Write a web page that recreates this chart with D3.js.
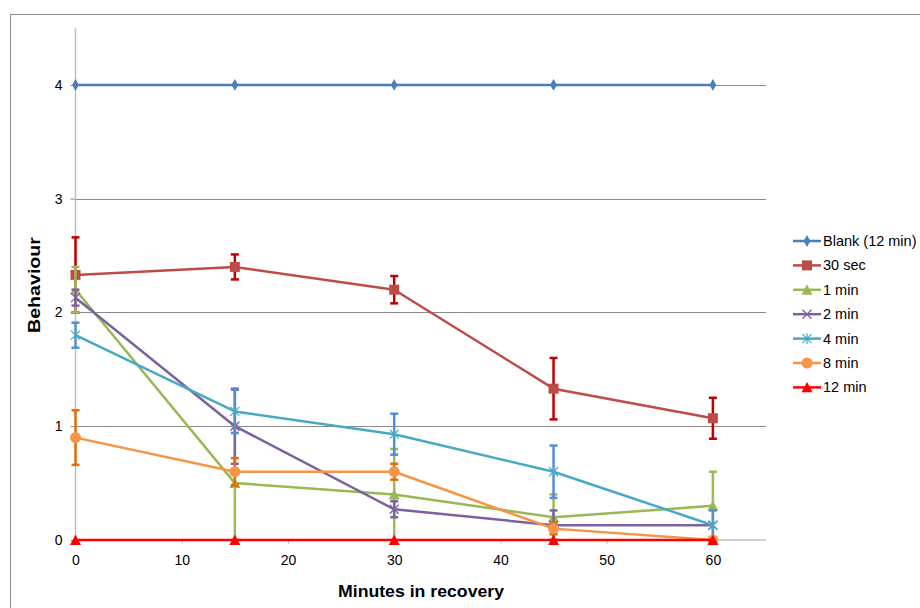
<!DOCTYPE html>
<html>
<head>
<meta charset="utf-8">
<script src="https://cdn.jsdelivr.net/npm/d3@7"></script>
<style>
  html, body { margin: 0; padding: 0; background: #fff; }
  svg { display: block; font-family: "Liberation Sans", Arial, sans-serif; }
</style>
</head>
<body>
<svg id="chart" width="920" height="608"></svg>
<script>
// Sampling times (minutes in recovery)
const minutes = [0, 15, 30, 45, 60];

// Series names as shown in the legend
const seriesNames = ["Blank (12 min)", "30 sec", "1 min", "2 min", "4 min", "8 min", "12 min"];

// Mean behaviour scores per series
const blankValues = [4, 4, 4, 4, 4];
const sec30Values = [2.33, 2.4, 2.2, 1.33, 1.07];
const min1Values  = [2.2, 0.5, 0.4, 0.2, 0.3];
const min2Values  = [2.13, 1.0, 0.27, 0.13, 0.13];
const min4Values  = [1.8, 1.13, 0.93, 0.6, 0.13];
const min8Values  = [0.9, 0.6, 0.6, 0.1, 0];
const min12Values = [0, 0, 0, 0, 0];

// Error bar half-widths per series
const blankErr = [0, 0, 0, 0, 0];
const sec30Err = [0.33, 0.11, 0.12, 0.27, 0.18];
const min1Err  = [0.2, 0.5, 0.4, 0.2, 0.3];
const min2Err  = [0.07, 0.33, 0.07, 0.13, 0];
const min4Err  = [0.11, 0.19, 0.18, 0.23, 0.13];
const min8Err  = [0.24, 0.12, 0.07, 0.05, 0];
const min12Err = [0, 0, 0, 0, 0];

// Axis ticks
const xTicks = [0, 10, 20, 30, 40, 50, 60];
const yTicks = [0, 1, 2, 3, 4];

const seriesValues = [blankValues, sec30Values, min1Values, min2Values, min4Values, min8Values, min12Values];
const seriesErr = [blankErr, sec30Err, min1Err, min2Err, min4Err, min8Err, min12Err];

const styles = [
  { line: "#4A7EBB", err: "#4A7EBB", marker: "diamond" },
  { line: "#BE4B48", err: "#C00000", marker: "square" },
  { line: "#98B954", err: "#9BBB59", marker: "triangle" },
  { line: "#7D60A0", err: "#8064A2", marker: "cross" },
  { line: "#46AAC5", err: "#558ED5", marker: "star" },
  { line: "#F69545", err: "#E46C0A", marker: "circle" },
  { line: "#FF0000", err: "#FF0000", marker: "triangle" }
];

const svg = d3.select("#chart");

// Chart frame
svg.append("rect")
  .attr("x", 10.5).attr("y", 14.5)
  .attr("width", 940).attr("height", 640)
  .attr("fill", "#fff").attr("stroke", "#8c8c8c").attr("stroke-width", 1);

const x = d3.scaleLinear().domain([0, 65]).range([75.5, 766]);
const y = d3.scaleLinear().domain([0, 4.5]).range([540, 28]);

// Gridlines
svg.append("g")
  .selectAll("line")
  .data(yTicks.filter(d => d > 0))
  .join("line")
  .attr("x1", x(0)).attr("x2", x(65))
  .attr("y1", d => Math.round(y(d)) + 0.5).attr("y2", d => Math.round(y(d)) + 0.5)
  .attr("stroke", "#8a8a8a").attr("stroke-width", 1);

// Y axis
const yAxis = svg.append("g")
  .attr("transform", `translate(${x(0)},0)`)
  .call(d3.axisLeft(y).tickValues(yTicks).tickSize(5).tickPadding(8).tickFormat(d3.format("d")));
yAxis.select(".domain").attr("stroke", "#bfbfbf").attr("stroke-width", 1.5)
  .attr("d", `M0,${y(4.5)}V${y(0)}`);
yAxis.selectAll(".tick line").attr("stroke", "#8a8a8a");
yAxis.selectAll(".tick text").attr("font-size", 14).attr("fill", "#000")
  .attr("font-family", "Liberation Sans, Arial, sans-serif");

// X axis
const xAxis = svg.append("g")
  .attr("transform", `translate(0,${y(0)})`)
  .call(d3.axisBottom(x).tickValues(xTicks).tickSize(4).tickPadding(11).tickFormat(d3.format("d")));
xAxis.select(".domain").attr("stroke", "#bfbfbf").attr("stroke-width", 1.5)
  .attr("d", `M${x(0)},0H${x(65)}`);
xAxis.selectAll(".tick line").attr("stroke", "#bfbfbf");
xAxis.selectAll(".tick text").attr("font-size", 14).attr("fill", "#000")
  .attr("font-family", "Liberation Sans, Arial, sans-serif");

// Axis titles
svg.append("text")
  .attr("x", 421).attr("y", 597)
  .attr("text-anchor", "middle")
  .attr("font-size", 16).attr("font-weight", "bold")
  .attr("textLength", 166).attr("lengthAdjust", "spacingAndGlyphs")
  .text("Minutes in recovery");

svg.append("text")
  .attr("transform", "translate(40,285) rotate(-90)")
  .attr("text-anchor", "middle")
  .attr("font-size", 16).attr("font-weight", "bold")
  .attr("textLength", 96).attr("lengthAdjust", "spacingAndGlyphs")
  .text("Behaviour");

// Marker shapes
function drawMarker(g, type, cx, cy, color, scale = 1) {
  const s = scale;
  if (type === "diamond") {
    g.append("path").attr("d", d3.symbol(d3.symbolDiamond, 40 * s)())
      .attr("transform", `translate(${cx},${cy})`).attr("fill", color);
  } else if (type === "square") {
    const w = 10 * s;
    g.append("rect").attr("x", cx - w / 2).attr("y", cy - w / 2)
      .attr("width", w).attr("height", w).attr("fill", color);
  } else if (type === "triangle") {
    const w = 11 * s;
    g.append("path")
      .attr("d", `M${cx},${cy - w * 0.5}L${cx + w / 2},${cy + w * 0.45}L${cx - w / 2},${cy + w * 0.45}Z`)
      .attr("fill", color);
  } else if (type === "cross") {
    const r = 4.5 * s;
    g.append("path")
      .attr("d", `M${cx - r},${cy - r}L${cx + r},${cy + r}M${cx - r},${cy + r}L${cx + r},${cy - r}`)
      .attr("stroke", color).attr("stroke-width", 1.3).attr("fill", "none");
  } else if (type === "star") {
    const r = 4.5 * s;
    g.append("path")
      .attr("d", `M${cx - r},${cy - r}L${cx + r},${cy + r}M${cx - r},${cy + r}L${cx + r},${cy - r}M${cx},${cy - r * 1.2}L${cx},${cy + r * 1.2}`)
      .attr("stroke", color).attr("stroke-width", 1.2).attr("fill", "none");
  } else if (type === "circle") {
    g.append("circle").attr("cx", cx).attr("cy", cy).attr("r", 5.5 * s).attr("fill", color);
  }
}

const line = d3.line().x(d => x(d[0])).y(d => y(d[1]));
const plot = svg.append("g");

seriesValues.forEach((vals, i) => {
  const st = styles[i];
  const g = plot.append("g");
  const pts = minutes.map((m, j) => [m, vals[j]]);

  // Error bars
  minutes.forEach((m, j) => {
    const e = seriesErr[i][j];
    if (e <= 0) return;
    const lo = Math.max(0, vals[j] - e), hi = vals[j] + e;
    const eg = g.append("g").attr("stroke", st.err).attr("stroke-width", 2.5);
    eg.append("line").attr("x1", x(m)).attr("x2", x(m)).attr("y1", y(lo)).attr("y2", y(hi));
    eg.append("line").attr("x1", x(m) - 4).attr("x2", x(m) + 4).attr("y1", y(hi)).attr("y2", y(hi));
    if (vals[j] - e >= 0) {
      eg.append("line").attr("x1", x(m) - 4).attr("x2", x(m) + 4).attr("y1", y(lo)).attr("y2", y(lo));
    }
  });

  g.append("path").datum(pts).attr("d", line)
    .attr("fill", "none").attr("stroke", st.line).attr("stroke-width", 2.5)
    .attr("stroke-linejoin", "round");

  pts.forEach(p => drawMarker(g, st.marker, x(p[0]), y(p[1]), st.line));
});

// Legend
const legend = svg.append("g");
seriesNames.forEach((name, i) => {
  const ly = 241 + i * 24.4;
  const st = styles[i];
  legend.append("line").attr("x1", 793).attr("x2", 821).attr("y1", ly).attr("y2", ly)
    .attr("stroke", st.line).attr("stroke-width", 2.5);
  drawMarker(legend, st.marker, 807, ly, st.line);
  legend.append("text").attr("x", 823).attr("y", ly).attr("dy", "0.35em")
    .attr("font-size", 14.5).attr("fill", "#000").text(name);
});
</script>
</body>
</html>
